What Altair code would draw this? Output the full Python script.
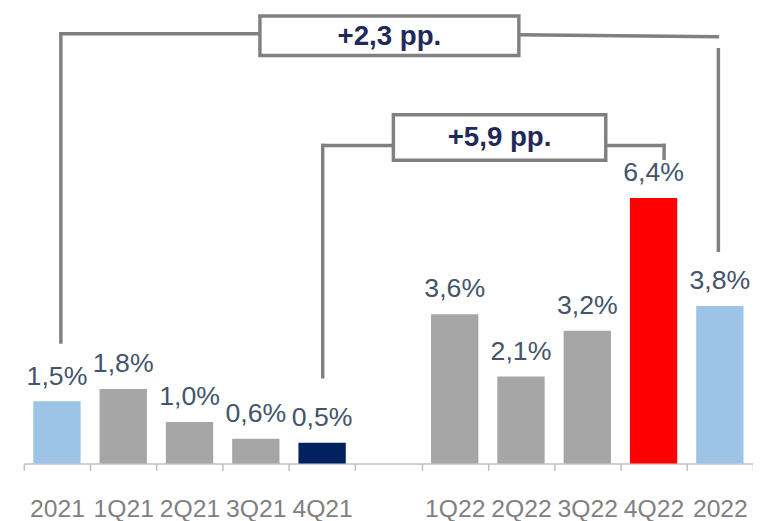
import altair as alt
import pandas as pd

# ---- data ----
axis_cats = ["2021", "1Q21", "2Q21", "3Q21", "4Q21", " ", "1Q22", "2Q22", "3Q22", "4Q22", "2022"]
bar_cats = ["2021", "1Q21", "2Q21", "3Q21", "4Q21", "1Q22", "2Q22", "3Q22", "4Q22", "2022"]
bar_values = [1.5, 1.8, 1.0, 0.6, 0.5, 3.6, 2.1, 3.2, 6.4, 3.8]
bar_colors = ["#9DC3E6", "#A6A6A6", "#A6A6A6", "#A6A6A6", "#002060",
              "#A6A6A6", "#A6A6A6", "#A6A6A6", "#FF0000", "#9DC3E6"]

# annotation brackets (x in category-slot units, y in %)
seg_x = [0.559, 0.559, 7.468, 10.478, 4.509, 4.509, 8.779, 9.659]
seg_x2 = [0.559, 3.562, 10.463, 10.478, 4.509, 5.575, 9.659, 9.659]
seg_y = [2.93, 10.357, 10.333, 9.976, 2.095, 7.667, 7.667, 7.667]
seg_y2 = [10.357, 10.357, 10.286, 5.143, 7.667, 7.667, 7.667, 7.357]

box_x = [3.562, 5.575]
box_x2 = [7.468, 8.779]
box_y = [10.786, 8.405]
box_y2 = [9.833, 7.310]
box_text = ["+2,3 pp.", "+5,9 pp."]

FONT = "Liberation Sans"
Y_MAX = 10.905

df = pd.DataFrame({
    "cat": bar_cats,
    "value": bar_values,
    "label": [f"{v:.1f}".replace(".", ",") + "%" for v in bar_values],
})
seg_df = pd.DataFrame({"x": seg_x, "x2": seg_x2, "y": seg_y, "y2": seg_y2})
box_df = pd.DataFrame({"x": box_x, "x2": box_x2, "y": box_y, "y2": box_y2, "t": box_text})
box_df["xm"] = (box_df["x"] + box_df["x2"]) / 2
box_df["ym"] = (box_df["y"] + box_df["y2"]) / 2

yscale = alt.Scale(domain=[0, Y_MAX], nice=False, zero=True)
xband = alt.Scale(domain=axis_cats, paddingInner=0, paddingOuter=0)
xq = alt.Scale(domain=[0, 11], nice=False, zero=False)

bars = alt.Chart(df).mark_bar(width=alt.RelativeBandSize(0.714)).encode(
    x=alt.X("cat:N", scale=xband, sort=axis_cats,
            axis=alt.Axis(title=None, labelAngle=0, labelFont=FONT, labelFontSize=25,
                          labelColor="#808080", domainColor="#BFBFBF", domainWidth=1.5,
                          tickColor="#BFBFBF", tickWidth=1.5, tickSize=7, tickBand="extent",
                          labelBaseline="alphabetic", labelPadding=47, grid=False)),
    y=alt.Y("value:Q", scale=yscale, axis=None),
    color=alt.Color("cat:N", scale=alt.Scale(domain=bar_cats, range=bar_colors), legend=None),
)

labels = alt.Chart(df).mark_text(
    font=FONT, fontSize=27, color="#44546A", baseline="alphabetic", dy=-17
).encode(
    x=alt.X("cat:N", scale=xband, sort=axis_cats, axis=None),
    y=alt.Y("value:Q", scale=yscale, axis=None),
    text="label:N",
)

lines = alt.Chart(seg_df).mark_rule(color="#808080", strokeWidth=3.5, strokeCap="square").encode(
    x=alt.X("x:Q", scale=xq, axis=None),
    x2="x2:Q",
    y=alt.Y("y:Q", scale=yscale, axis=None),
    y2="y2:Q",
)

boxes = alt.Chart(box_df).mark_rect(fill="white", stroke="#808080", strokeWidth=3.5).encode(
    x=alt.X("x:Q", scale=xq, axis=None),
    x2="x2:Q",
    y=alt.Y("y:Q", scale=yscale, axis=None),
    y2="y2:Q",
)

box_labels = alt.Chart(box_df).mark_text(
    font=FONT, fontSize=28, fontWeight="bold", color="#1F2A5C", baseline="middle", dy=1
).encode(
    x=alt.X("xm:Q", scale=xq, axis=None),
    y=alt.Y("ym:Q", scale=yscale, axis=None),
    text="t:N",
)

chart = alt.layer(bars, labels, lines, boxes, box_labels).resolve_scale(
    x="independent"
).properties(
    width=738, height=458,
    autosize=alt.AutoSizeParams(type="none"),
    padding={"left": 16, "top": 0, "right": 0, "bottom": 55},
).configure_view(stroke=None)

chart.save("out.html", embed_options={"renderer": "svg", "actions": False})
